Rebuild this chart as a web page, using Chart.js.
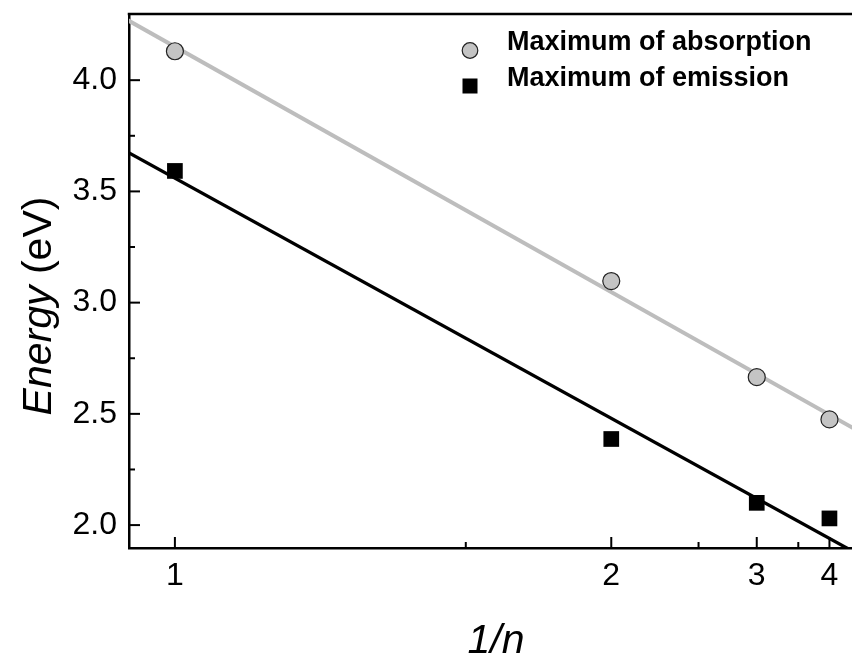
<!DOCTYPE html>
<html>
<head>
<meta charset="utf-8">
<script src="https://cdn.jsdelivr.net/npm/chart.js@4/dist/chart.umd.min.js"></script>
<style>
  body { margin: 0; background: #fff; overflow: hidden; }
  #wrap { width: 852px; height: 657px; overflow: hidden; }
</style>
</head>
<body>
<div id="wrap"><canvas id="energy_chart" width="880" height="657"></canvas></div>
<script>
// data; x is 1/n, axis labelled with n
const nLabels = ['1', '2', '3', '4'];
const invN = [1, 0.5, 0.3333, 0.25];
const absorption = [4.13, 3.097, 2.665, 2.475];
const emission = [3.592, 2.387, 2.10, 2.03];
const fitX = [1.06, 0.2];
const absorptionFit = [4.283, 2.386];
const emissionFit = [3.689, 1.832];
const yTicks = [2.0, 2.5, 3.0, 3.5, 4.0];
const yMinorTicks = [2.25, 2.75, 3.25, 3.75];
const xMinorTicks = [0.6667, 0.4, 0.2857];

const FONT = '"Liberation Sans", Arial, sans-serif';

function pts(xs, ys) { return xs.map((x, i) => ({x: x, y: ys[i]})); }

// inward ticks + top frame line
const frameTicks = {
    id: 'frameTicks',
    afterDraw(chart) {
        const ctx = chart.ctx, a = chart.chartArea;
        const xs = chart.scales.x, ys = chart.scales.y;
        ctx.save();
        ctx.strokeStyle = '#000';
        ctx.lineWidth = 2.5;
        ctx.beginPath();
        ctx.moveTo(a.left - 1.25, a.top); ctx.lineTo(a.right + 20, a.top);
        ctx.stroke();
        ctx.lineWidth = 2;
        const tick = (x1, y1, x2, y2) => { ctx.beginPath(); ctx.moveTo(x1, y1); ctx.lineTo(x2, y2); ctx.stroke(); };
        yTicks.forEach(v => { const y = ys.getPixelForValue(v); tick(a.left, y, a.left + 11, y); });
        yMinorTicks.forEach(v => { const y = ys.getPixelForValue(v); tick(a.left, y, a.left + 6, y); });
        invN.forEach(v => { const x = xs.getPixelForValue(v); tick(x, a.bottom, x, a.bottom - 11); });
        xMinorTicks.forEach(v => { const x = xs.getPixelForValue(v); tick(x, a.bottom, x, a.bottom - 6); });
        ctx.restore();
    }
};

// axis titles and legend drawn on the canvas (mixed italic / normal)
const labelsPlugin = {
    id: 'labelsPlugin',
    afterDraw(chart) {
        const ctx = chart.ctx;
        ctx.save();
        ctx.fillStyle = '#000';
        // y title
        ctx.translate(51, 306);
        ctx.rotate(-Math.PI / 2);
        ctx.textBaseline = 'alphabetic';
        ctx.font = 'italic 41px ' + FONT;
        const w1 = ctx.measureText('Energy').width;
        ctx.font = '41px ' + FONT;
        const w2 = ctx.measureText(' (eV)').width;
        ctx.textAlign = 'left';
        ctx.font = 'italic 41px ' + FONT;
        ctx.fillText('Energy', -(w1 + w2) / 2, 0);
        ctx.font = '41px ' + FONT;
        ctx.fillText(' (eV)', -(w1 + w2) / 2 + w1, 0);
        ctx.restore();

        ctx.save();
        ctx.fillStyle = '#000';
        ctx.font = 'italic 41px ' + FONT;
        ctx.textAlign = 'center';
        ctx.textBaseline = 'alphabetic';
        ctx.fillText('1/n', 496, 653);

        // legend
        const ds = chart.data.datasets;
        ctx.font = 'bold 27px ' + FONT;
        ctx.textAlign = 'left';
        ctx.textBaseline = 'alphabetic';
        ctx.beginPath();
        ctx.arc(470, 50.5, 7.8, 0, Math.PI * 2);
        ctx.fillStyle = '#c4c4c4'; ctx.fill();
        ctx.lineWidth = 1.2; ctx.strokeStyle = '#222'; ctx.stroke();
        ctx.fillStyle = '#000';
        ctx.fillText(ds[0].label, 507, 50);
        ctx.fillRect(462.5, 78.5, 15, 15);
        ctx.fillText(ds[1].label, 507, 86);
        ctx.restore();
    }
};

const config = {
    type: 'scatter',
    data: {
        datasets: [
            {
                label: 'Maximum of absorption',
                data: pts(invN, absorption),
                pointStyle: 'circle',
                pointRadius: 8.5,
                pointHoverRadius: 8.5,
                backgroundColor: '#c4c4c4',
                borderColor: '#222',
                borderWidth: 1.2,
                order: 0,
            },
            {
                label: 'Maximum of emission',
                data: pts(invN, emission),
                pointStyle: 'rect',
                pointRadius: 11.1,
                pointHoverRadius: 11.1,
                backgroundColor: '#000',
                borderColor: '#000',
                borderWidth: 0,
                order: 0,
            },
            {
                label: 'absorption fit',
                type: 'line',
                data: pts(fitX, absorptionFit),
                borderColor: '#bdbdbd',
                borderWidth: 4,
                pointRadius: 0,
                clip: 0,
                order: 1,
            },
            {
                label: 'emission fit',
                type: 'line',
                data: pts(fitX, emissionFit),
                borderColor: '#000',
                borderWidth: 3.3,
                pointRadius: 0,
                clip: 0,
                order: 1,
            },
        ]
    },
    options: {
        responsive: false,
        animation: false,
        layout: { padding: { top: 14, right: 10, left: 0, bottom: 0 } },
        plugins: { legend: { display: false }, tooltip: { enabled: false } },
        scales: {
            x: {
                type: 'linear',
                reverse: true,
                min: 0.2048,
                max: 1.0526,
                afterBuildTicks: (scale) => { scale.ticks = invN.map(v => ({value: v})); },
                afterFit: (scale) => { scale.height = 109; scale.paddingLeft = 0; scale.paddingRight = 0; },
                ticks: {
                    callback: (v, i) => nLabels[i],
                    color: '#000',
                    font: { family: FONT, size: 32 },
                    padding: 9,
                    maxRotation: 0,
                    autoSkip: false,
                },
                grid: { display: true, drawOnChartArea: false, drawTicks: false },
                border: { display: true, color: '#000', width: 2.5 },
            },
            y: {
                min: 1.897,
                max: 4.2975,
                afterBuildTicks: (scale) => { scale.ticks = yTicks.map(v => ({value: v})); },
                afterFit: (scale) => { scale.width = 129; scale.paddingTop = 0; scale.paddingBottom = 0; },
                ticks: {
                    callback: (v) => v.toFixed(1),
                    color: '#000',
                    font: { family: FONT, size: 32 },
                    padding: 12,
                    autoSkip: false,
                },
                grid: { display: true, drawOnChartArea: false, drawTicks: false },
                border: { display: true, color: '#000', width: 2.5 },
            },
        },
    },
    plugins: [frameTicks, labelsPlugin],
};

const energyChart = new Chart(document.getElementById('energy_chart'), config);
</script>
</body>
</html>
